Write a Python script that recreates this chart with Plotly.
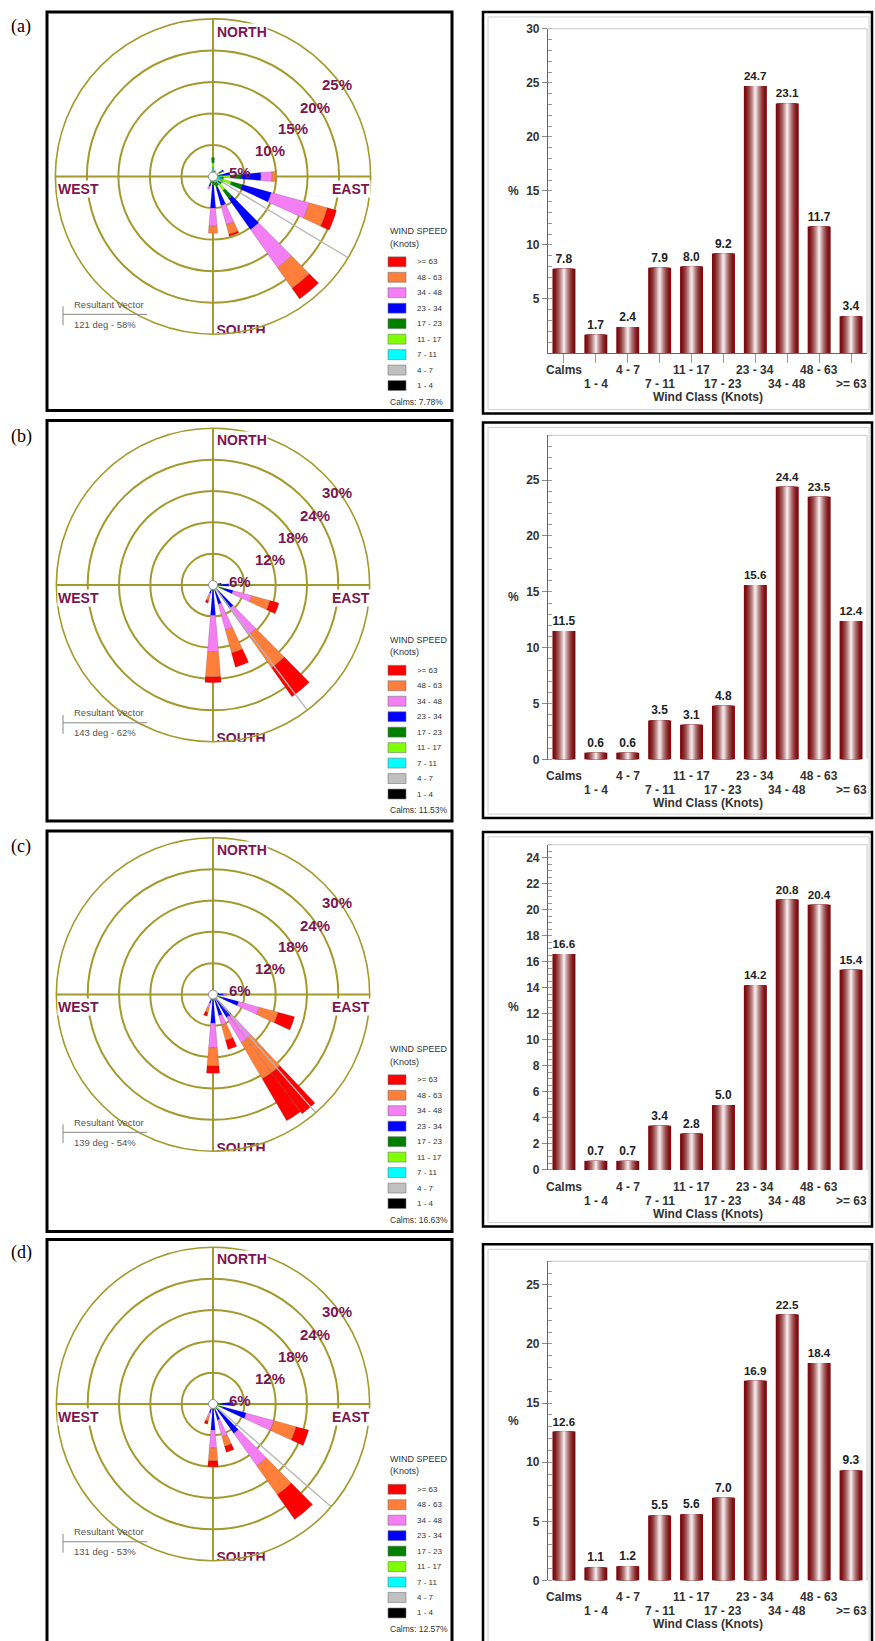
import plotly.graph_objects as go

W, H = 875, 1641
FONT = "Liberation Sans, Arial, sans-serif"
MAROON = "#7a1650"
OLIVE = "#a39a2e"

# ---------------- data ----------------
CLASS_LABELS = ['1 - 4', '4 - 7', '7 - 11', '11 - 17', '17 - 23', '23 - 34', '34 - 48', '48 - 63', '>= 63']
CLASS_COLORS = ['#000000', '#c0c0c0', '#00ffff', '#80ff00', '#008000', '#0000ff', '#f47ef4', '#ff7f3a', '#ff0000']

BAR_CATS = ['Calms', '1 - 4', '4 - 7', '7 - 11', '11 - 17', '17 - 23', '23 - 34', '34 - 48', '48 - 63', '>= 63']
BAR_A = [7.8, 1.7, 2.4, 7.9, 8.0, 9.2, 24.7, 23.1, 11.7, 3.4]
BAR_B = [11.5, 0.6, 0.6, 3.5, 3.1, 4.8, 15.6, 24.4, 23.5, 12.4]
BAR_C = [16.6, 0.7, 0.7, 3.4, 2.8, 5.0, 14.2, 20.8, 20.4, 15.4]
BAR_D = [12.6, 1.1, 1.2, 5.5, 5.6, 7.0, 16.9, 22.5, 18.4, 9.3]

YTICKS_A = [5, 10, 15, 20, 25, 30]
YTICKS_B = [0, 5, 10, 15, 20, 25]
YTICKS_C = [0, 2, 4, 6, 8, 10, 12, 14, 16, 18, 20, 22, 24]
YTICKS_D = [0, 5, 10, 15, 20, 25]
YMAX = [30, 29, 25, 27]
YMINOR = [1, 1, 0.5, 1]

# wind rose: direction (deg), sector width (deg) and percent per speed class (1-4 ... >=63)
DIRS_A = [0, 20, 60, 80, 90, 100, 110, 120, 130, 140, 150, 160, 170, 180, 190, 200, 210, 340]
WIDTH_A = [9.5] * len(DIRS_A)
ROSE_A = [
    [0.2, 0.3, 0.9, 0.8, 0.8, 0.0, 0.0, 0.0, 0.0],
    [0.1, 0.1, 0.3, 0.3, 0.2, 0.0, 0.0, 0.0, 0.0],
    [0.1, 0.1, 0.4, 0.5, 0.6, 0.2, 0.0, 0.0, 0.0],
    [0.1, 0.1, 0.3, 0.4, 0.6, 1.2, 0.0, 0.0, 0.0],
    [0.2, 0.3, 1.0, 1.3, 1.7, 3.1, 1.8, 0.6, 0.0],
    [0.1, 0.1, 0.4, 0.5, 0.6, 0.0, 0.0, 0.0, 0.0],
    [0.2, 0.3, 1.0, 1.5, 1.8, 4.8, 6.2, 3.0, 1.5],
    [0.1, 0.1, 0.4, 0.5, 0.7, 0.0, 0.0, 0.0, 0.0],
    [0.1, 0.1, 0.4, 0.5, 0.6, 0.0, 0.0, 0.0, 0.0],
    [0.2, 0.3, 0.9, 1.3, 1.6, 6.0, 7.4, 4.0, 2.1],
    [0.1, 0.1, 0.3, 0.5, 0.6, 0.0, 0.0, 0.0, 0.0],
    [0.1, 0.1, 0.4, 0.5, 0.7, 3.0, 3.1, 1.6, 0.3],
    [0.1, 0.1, 0.3, 0.4, 0.5, 0.0, 0.0, 0.0, 0.0],
    [0.1, 0.1, 0.3, 0.4, 0.5, 3.6, 2.9, 1.1, 0.0],
    [0.1, 0.1, 0.2, 0.3, 0.3, 0.0, 0.0, 0.0, 0.0],
    [0.1, 0.1, 0.3, 0.3, 0.4, 0.4, 0.5, 0.0, 0.0],
    [0.1, 0.1, 0.2, 0.2, 0.2, 0.0, 0.0, 0.0, 0.0],
    [0.1, 0.1, 0.2, 0.2, 0.2, 0.0, 0.0, 0.0, 0.0],
]
DIRS_B = [0, 80, 90, 100, 110, 120, 130, 140, 150, 160, 170, 180, 200]
WIDTH_B = [9.5] * len(DIRS_B)
ROSE_B = [
    [0.1, 0.1, 0.2, 0.2, 0.2, 0.0, 0.0, 0.0, 0.0],
    [0.1, 0.1, 0.2, 0.3, 0.4, 0.5, 0.0, 0.0, 0.0],
    [0.1, 0.1, 0.3, 0.4, 0.6, 1.5, 0.0, 0.0, 0.0],
    [0.1, 0.1, 0.2, 0.2, 0.3, 0.0, 0.0, 0.0, 0.0],
    [0.1, 0.1, 0.4, 0.7, 1.0, 1.7, 3.7, 3.6, 1.8],
    [0.1, 0.1, 0.2, 0.2, 0.3, 0.0, 0.0, 0.0, 0.0],
    [0.1, 0.1, 0.2, 0.2, 0.3, 0.0, 0.0, 0.0, 0.0],
    [0.1, 0.1, 0.3, 0.3, 0.5, 4.2, 6.2, 7.7, 6.8],
    [0.1, 0.1, 0.2, 0.2, 0.2, 0.0, 0.0, 0.0, 0.0],
    [0.1, 0.1, 0.3, 0.3, 0.5, 2.5, 5.1, 4.6, 2.8],
    [0.1, 0.1, 0.1, 0.2, 0.2, 0.0, 0.0, 0.0, 0.0],
    [0.1, 0.1, 0.1, 0.2, 0.3, 5.0, 7.0, 4.8, 1.1],
    [0.1, 0.1, 0.3, 0.3, 0.4, 0.5, 0.6, 0.8, 0.5],
]
DIRS_C = [0, 80, 90, 100, 110, 120, 130, 140, 146.5, 160, 170, 180, 200]
WIDTH_C = [9.5, 9.5, 9.5, 9.5, 9.5, 9.5, 9.5, 6.5, 6.5, 9.5, 9.5, 9.5, 9.5]
ROSE_C = [
    [0.1, 0.1, 0.1, 0.2, 0.1, 0.0, 0.0, 0.0, 0.0],
    [0.1, 0.1, 0.2, 0.2, 0.2, 0.4, 0.0, 0.0, 0.0],
    [0.1, 0.1, 0.2, 0.3, 0.3, 1.0, 0.3, 0.3, 0.0],
    [0.1, 0.1, 0.1, 0.2, 0.2, 0.0, 0.0, 0.0, 0.0],
    [0.1, 0.1, 0.3, 0.6, 0.9, 3.1, 4.1, 3.7, 3.3],
    [0.1, 0.1, 0.1, 0.2, 0.2, 0.0, 0.0, 0.0, 0.0],
    [0.1, 0.1, 0.1, 0.2, 0.2, 0.0, 0.0, 0.0, 0.0],
    [0.1, 0.1, 0.2, 0.3, 0.4, 4.1, 5.4, 8.1, 9.8],
    [0.1, 0.1, 0.2, 0.3, 0.4, 4.0, 5.6, 8.0, 9.3],
    [0.1, 0.1, 0.3, 0.3, 0.4, 3.0, 1.9, 3.0, 1.8],
    [0.1, 0.1, 0.1, 0.1, 0.2, 0.0, 0.0, 0.0, 0.0],
    [0.1, 0.1, 0.2, 0.3, 0.4, 4.4, 4.7, 3.5, 1.4],
    [0.1, 0.1, 0.3, 0.3, 0.4, 0.6, 0.9, 0.9, 0.7],
]
DIRS_D = [0, 30, 80, 90, 100, 110, 120, 130, 140, 150, 160, 170, 180, 200]
WIDTH_D = [9.5] * len(DIRS_D)
ROSE_D = [
    [0.1, 0.1, 0.1, 0.2, 0.1, 0.0, 0.0, 0.0, 0.0],
    [0.1, 0.1, 0.1, 0.1, 0.1, 0.0, 0.0, 0.0, 0.0],
    [0.1, 0.1, 0.2, 0.2, 0.2, 0.2, 0.0, 0.0, 0.0],
    [0.1, 0.1, 0.3, 0.5, 0.6, 2.3, 0.0, 0.0, 0.0],
    [0.1, 0.1, 0.2, 0.2, 0.2, 0.0, 0.0, 0.0, 0.0],
    [0.1, 0.1, 0.4, 0.6, 0.8, 4.6, 5.5, 4.4, 2.5],
    [0.1, 0.1, 0.2, 0.2, 0.2, 0.0, 0.0, 0.0, 0.0],
    [0.1, 0.1, 0.2, 0.2, 0.2, 0.0, 0.0, 0.0, 0.0],
    [0.1, 0.1, 0.3, 0.4, 0.6, 5.4, 7.6, 6.8, 5.8],
    [0.1, 0.1, 0.1, 0.2, 0.2, 0.0, 0.0, 0.0, 0.0],
    [0.1, 0.1, 0.2, 0.3, 0.3, 2.2, 3.3, 1.9, 1.2],
    [0.1, 0.1, 0.1, 0.2, 0.2, 0.0, 0.0, 0.0, 0.0],
    [0.1, 0.1, 0.1, 0.2, 0.3, 4.2, 3.4, 2.5, 1.1],
    [0.1, 0.1, 0.2, 0.3, 0.3, 0.8, 0.8, 0.8, 0.6],
]
ROSE_RMAX = [25, 30, 30, 30]
RING_VALS_A = [5, 10, 15, 20, 25]
RING_VALS_BCD = [6, 12, 18, 24, 30]
RING_TEXT_A = ['5%', '10%', '15%', '20%', '25%']
RING_TEXT_BCD = ['6%', '12%', '18%', '24%', '30%']
RESULT_DEG = [121, 143, 139, 131]
RESULT_LEN = [29.0, 37.7, 43.8, 40.4]
RESULT_TEXT = ['121 deg - 58%', '143 deg - 62%', '139 deg - 54%', '131 deg - 53%']
CALMS_TEXT = ['Calms: 7.78%', 'Calms: 11.53%', 'Calms: 16.63%', 'Calms: 12.57%']
PANEL_TEXT = ['(a)', '(b)', '(c)', '(d)']

# ---------------- geometry (pixels) ----------------
CX = 213
ROSE_CY = [171, 583, 996, 1409]
ROSE_R = [159, 158, 158, 158]
ROSE_BOX = [(47, 5, 452, 407), (47, 417, 452, 821), (47, 831, 452, 1235), (47, 1243, 452, 1660)]
BAR_BOX = [(483, 5, 872, 410), (483, 419, 872, 818), (483, 832, 872, 1230), (483, 1248, 872, 1660)]
BAR_X0, BAR_X1 = 548, 867
BAR_TOP = [22, 432, 845, 1265]
BAR_BASE = [349, 759, 1173, 1587]
PANEL_LABEL_Y = [20, 433, 847, 1256]


def px(x):
    return x / W


def py(y):
    return 1 - y / H


def note(x, y, text, size, color, anchor='center', weight='normal', family=FONT, **kw):
    d = dict(x=px(x), y=py(y), xref='paper', yref='paper', text=text, showarrow=False,
             xanchor=anchor, yanchor='middle',
             font=dict(family=family, size=size, color=color, weight=weight))
    d.update(kw)
    return d


fig = go.Figure()
shapes, annotations = [], []
layout = {}

bars = [BAR_A, BAR_B, BAR_C, BAR_D]
yticks = [YTICKS_A, YTICKS_B, YTICKS_C, YTICKS_D]
dirs_all = [DIRS_A, DIRS_B, DIRS_C, DIRS_D]
widths_all = [WIDTH_A, WIDTH_B, WIDTH_C, WIDTH_D]
rose_all = [ROSE_A, ROSE_B, ROSE_C, ROSE_D]

# gradient for cylinder-style bars
N_LAYERS = 10
EDGE = (122, 10, 14)
CENTER = (238, 228, 228)

for i in range(4):
    cy, R = ROSE_CY[i], ROSE_R[i]
    pk = 'polar' if i == 0 else f'polar{i + 1}'
    rings = RING_VALS_A if i == 0 else RING_VALS_BCD
    ring_text = RING_TEXT_A if i == 0 else RING_TEXT_BCD

    # ---- wind rose ----
    layout[pk] = dict(
        domain=dict(x=[px(CX - R), px(CX + R)], y=[py(cy + R), py(cy - R)]),
        bgcolor='rgba(0,0,0,0)',
        barmode='stack',
        angularaxis=dict(rotation=90, direction='clockwise', tickmode='array',
                         tickvals=[0, 90, 180, 270], showticklabels=False, ticks='',
                         gridcolor=OLIVE, gridwidth=1.6, showline=True,
                         linecolor=OLIVE, linewidth=1.6),
        radialaxis=dict(range=[0, ROSE_RMAX[i]], tickmode='array', tickvals=rings,
                        showticklabels=False, ticks='', gridcolor=OLIVE,
                        gridwidth=1.6, showline=False),
    )
    fig.add_trace(go.Scatterpolar(
        r=[0, RESULT_LEN[i]], theta=[RESULT_DEG[i], RESULT_DEG[i]], mode='lines',
        line=dict(color='#b4b4b4', width=1.3), cliponaxis=False, subplot=pk,
        showlegend=False, hoverinfo='skip'))
    for c in range(9):
        fig.add_trace(go.Barpolar(
            r=[row[c] for row in rose_all[i]], theta=dirs_all[i], width=widths_all[i],
            marker=dict(color=CLASS_COLORS[c], line=dict(width=0.4, color='rgba(70,70,70,0.5)')),
            subplot=pk, showlegend=False, hoverinfo='skip'))
    fig.add_trace(go.Scatterpolar(
        r=[0], theta=[0], mode='markers',
        marker=dict(size=9, color='white', line=dict(color='#8a8a8a', width=1)),
        subplot=pk, showlegend=False, hoverinfo='skip'))

    # ring labels
    offs = [(27, -4), (57, -26), (80, -48), (102, -70), (124, -93)]
    for t, (dx, dy) in zip(ring_text, offs):
        annotations.append(note(CX + dx, cy + dy, t, 15, MAROON, weight='bold'))
    # compass labels
    for t, dx, dy in [('NORTH', 29, -146), ('EAST', 138, 13), ('WEST', -135, 13)]:
        annotations.append(note(CX + dx, cy + dy, t, 14, MAROON, weight='bold',
                                bgcolor='white', borderpad=0))
    # SOUTH, clipped at the rose's bottom edge
    xk, yk = f'xaxis{2 * i + 2}', f'yaxis{2 * i + 2}'
    layout[xk] = dict(domain=[px(40), px(460)], range=[40, 460], visible=False, fixedrange=True)
    layout[yk] = dict(domain=[py(cy + 158), py(cy - R)], range=[cy + 158, cy - R],
                      visible=False, fixedrange=True)
    fig.add_trace(go.Scatter(
        x=[CX + 28], y=[cy + 156], text=['SOUTH'], mode='text', cliponaxis=True,
        textfont=dict(family=FONT, size=14, color=MAROON, weight='bold'),
        xaxis=f'x{2 * i + 2}', yaxis=f'y{2 * i + 2}', showlegend=False, hoverinfo='skip'))

    # legend
    annotations.append(note(388, cy + 55, 'WIND SPEED', 9, '#333', anchor='left'))
    annotations.append(note(388, cy + 68, '(Knots)', 9, '#333', anchor='left'))
    for j, c in enumerate(range(8, -1, -1)):
        yc = cy + 86 + j * 15.6
        shapes.append(dict(type='rect', xref='paper', yref='paper',
                           x0=px(388), x1=px(406), y0=py(yc + 5), y1=py(yc - 5),
                           fillcolor=CLASS_COLORS[c], line=dict(color='#777', width=0.6)))
        annotations.append(note(415, yc, CLASS_LABELS[c], 8, '#333', anchor='left'))
    annotations.append(note(388, cy + 227, CALMS_TEXT[i], 8.5, '#333', anchor='left'))
    # resultant vector note
    annotations.append(note(72, cy + 129, 'Resultant Vector', 9.5, '#555', anchor='left'))
    annotations.append(note(72, cy + 149, RESULT_TEXT[i], 9.5, '#555', anchor='left'))
    shapes.append(dict(type='line', xref='paper', yref='paper', x0=px(63), x1=px(63),
                       y0=py(cy + 131), y1=py(cy + 150), line=dict(color='#888', width=1)))
    shapes.append(dict(type='line', xref='paper', yref='paper', x0=px(63), x1=px(147),
                       y0=py(cy + 139), y1=py(cy + 139), line=dict(color='#888', width=1)))

    # panel label
    annotations.append(note(21, PANEL_LABEL_Y[i], PANEL_TEXT[i], 18, 'black',
                            family='Liberation Serif, Times New Roman, serif'))

    # boxes
    x0, y0, x1, y1 = ROSE_BOX[i]
    shapes.append(dict(type='rect', xref='paper', yref='paper', x0=px(x0), x1=px(x1),
                       y0=py(y1), y1=py(y0), line=dict(color='black', width=3)))
    x0, y0, x1, y1 = BAR_BOX[i]
    shapes.append(dict(type='rect', xref='paper', yref='paper', x0=px(x0), x1=px(x1),
                       y0=py(y1), y1=py(y0), line=dict(color='black', width=2.5)))
    shapes.append(dict(type='rect', xref='paper', yref='paper', x0=px(x0 + 5), x1=px(x1 - 3),
                       y0=py(y1 - 4), y1=py(y0 + 5), line=dict(color='#d0d0d0', width=1)))

    # ---- bar chart ----
    bxk, byk = ('xaxis', 'yaxis') if i == 0 else (f'xaxis{2 * i + 1}', f'yaxis{2 * i + 1}')
    bx, by = ('x', 'y') if i == 0 else (f'x{2 * i + 1}', f'y{2 * i + 1}')
    xs = list(range(len(BAR_CATS)))
    for k in range(N_LAYERS):
        t = k / (N_LAYERS - 1)
        f = t ** 1.6
        col = 'rgb({},{},{})'.format(*[int(EDGE[m] + (CENTER[m] - EDGE[m]) * f) for m in range(3)])
        wdt = 0.72 * (1 - 0.9 * t)
        kw = {}
        if k == 0:
            kw = dict(texttemplate='%{y:.1f}', textposition='outside', cliponaxis=False,
                      textfont=dict(family=FONT, size=12, color='#222', weight='bold'))
        fig.add_trace(go.Bar(x=xs, y=bars[i], width=wdt, marker=dict(color=col, line=dict(width=0)),
                             xaxis=bx, yaxis=by, showlegend=False, hoverinfo='skip', **kw))
    layout[bxk] = dict(domain=[px(BAR_X0), px(BAR_X1)], range=[-0.5, 9.5], tickmode='array',
                       tickvals=xs, showticklabels=False, ticks='outside', ticklen=9,
                       tickcolor='#999', showline=True, linecolor='#666', linewidth=1.2,
                       showgrid=False, zeroline=False, fixedrange=True)
    layout[byk] = dict(domain=[py(BAR_BASE[i]), py(BAR_TOP[i])], range=[0, YMAX[i]],
                       tickmode='array', tickvals=yticks[i], ticks='outside', ticklen=5,
                       tickcolor='#888', showline=True, linecolor='#666', linewidth=1.2,
                       showgrid=False, zeroline=False, fixedrange=True,
                       minor=dict(tick0=0, dtick=YMINOR[i], ticks='inside', ticklen=4,
                                  tickcolor='#999', showgrid=False),
                       tickfont=dict(family=FONT, size=12, color='#333', weight='bold'))
    # category labels in two staggered rows
    for j, c in enumerate(BAR_CATS):
        yrow = BAR_BASE[i] + (17 if j % 2 == 0 else 31)
        annotations.append(dict(x=j, y=py(yrow), xref=bx, yref='paper', text=c,
                                showarrow=False, xanchor='center', yanchor='middle',
                                font=dict(family=FONT, size=12, color='#333', weight='bold')))
    # light frame on top and right of bar plot
    shapes.append(dict(type='line', xref='paper', yref='paper', x0=px(BAR_X0), x1=px(BAR_X1),
                       y0=py(BAR_TOP[i]), y1=py(BAR_TOP[i]), line=dict(color='#c8c8c8', width=1)))
    shapes.append(dict(type='line', xref='paper', yref='paper', x0=px(BAR_X1), x1=px(BAR_X1),
                       y0=py(BAR_BASE[i]), y1=py(BAR_TOP[i]), line=dict(color='#c8c8c8', width=1)))
    annotations.append(note(513, (BAR_TOP[i] + BAR_BASE[i]) / 2, '%', 12, '#333', weight='bold'))
    annotations.append(note((BAR_X0 + BAR_X1) / 2, BAR_BASE[i] + 44, 'Wind Class (Knots)', 12,
                            '#333', weight='bold'))

fig.update_layout(
    width=W, height=H, margin=dict(l=0, r=0, t=0, b=0),
    paper_bgcolor='white', plot_bgcolor='rgba(0,0,0,0)',
    barmode='overlay', showlegend=False,
    shapes=shapes, annotations=annotations,
    **layout,
)
POST = (
    "document.documentElement.style.margin='0';"
    "document.body.style.margin='0';document.body.style.padding='0';"
    "document.body.style.overflow='hidden';"
    "var gd=document.getElementById('{plot_id}');"
    "gd.style.position='absolute';gd.style.top='0px';gd.style.left='0px';"
)
fig.write_html('out.html', config={'displayModeBar': False}, post_script=POST)
